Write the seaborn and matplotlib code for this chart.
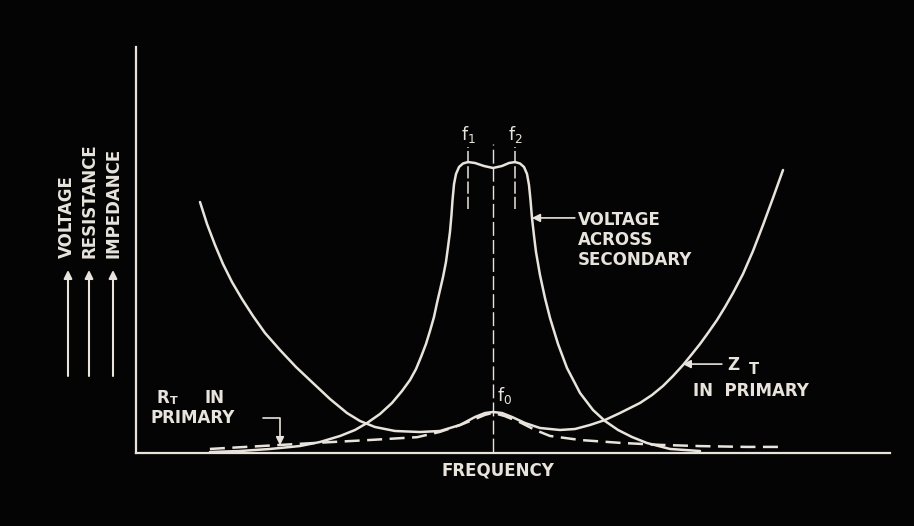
import numpy as np
import pandas as pd
import matplotlib.pyplot as plt
import seaborn as sns

# frequency axis and amplitude axis both in arbitrary units (0-100)
zt_freq = [8.49, 9.42, 10.48, 11.54, 12.73, 14.06, 15.52, 17.11, 19.10, 21.22,
           23.47, 25.73, 27.98, 29.71, 31.70, 34.35, 37.67, 40.32, 42.97, 44.96,
           46.29, 47.35, 48.54, 49.87, 51.59, 53.58, 56.23, 58.22, 60.21, 62.20,
           64.19, 66.84, 68.44, 69.89, 71.22, 72.55, 73.74, 74.80, 75.86, 77.06,
           78.12, 79.18, 80.50, 81.83, 83.16, 84.48, 85.81]
zt_val = [61.82, 56.40, 51.23, 46.55, 42.12, 37.93, 33.74, 29.56, 25.37, 21.18,
          17.24, 13.30, 9.85, 7.88, 6.40, 5.42, 5.17, 5.42, 6.90, 8.87,
          9.85, 10.10, 9.85, 8.87, 7.39, 6.16, 5.67, 5.91, 6.90, 8.13,
          9.85, 12.32, 14.29, 16.50, 18.97, 21.67, 24.38, 26.85, 29.56, 32.76,
          35.96, 39.41, 44.09, 49.75, 56.16, 62.81, 69.70]

volt_freq = [9.81, 13.79, 17.77, 21.75, 24.40, 27.06, 29.05, 30.64, 32.36, 33.95,
             35.28, 36.34, 37.14, 37.80, 38.46, 38.99, 39.52, 39.92, 40.32, 40.72,
             41.11, 41.38, 41.64, 41.84, 41.98, 42.18, 42.44, 42.84, 43.37, 44.03,
             44.96, 46.15, 47.35, 48.54, 49.47, 50.27, 50.93, 51.46, 51.86, 52.12,
             52.32, 52.52, 52.79, 53.05, 53.58, 54.24, 54.91, 55.97, 57.16, 58.89,
             60.61, 62.20, 63.93, 65.78, 67.77, 70.82, 74.80]
volt_val = [0.25, 0.49, 0.99, 1.72, 2.71, 4.19, 5.67, 7.39, 9.61, 12.32,
            15.27, 17.98, 20.69, 23.65, 26.85, 30.05, 33.50, 36.95, 40.15, 43.35,
            47.04, 50.74, 54.43, 58.62, 62.32, 66.26, 68.72, 70.44, 71.31, 71.67,
            71.43, 70.69, 70.20, 70.69, 71.43, 71.67, 71.31, 70.44, 68.72, 66.01,
            62.32, 57.88, 53.45, 49.51, 43.84, 38.18, 33.25, 26.85, 20.94, 14.78,
            10.59, 7.88, 5.67, 3.94, 2.46, 0.99, 0.49]

rt_freq = [9.8, 16.5, 24.0, 31.0, 37.3, 40.3, 43.0, 45.0, 46.3, 47.35, 48.9, 50.9,
           52.9, 54.9, 58.9, 64.2, 69.5, 74.8, 81.0, 85.4]
rt_val = [1.0, 1.7, 2.5, 3.2, 3.9, 5.2, 6.9, 8.4, 9.4, 9.9, 9.1, 7.6,
          5.7, 4.2, 3.2, 2.5, 2.0, 1.7, 1.5, 1.5]

f1, f0, f2 = 44.0, 47.35, 50.3

INK = '#e8e4dc'
BG = '#040404'
W, H = 914, 526


def fx(px):
    return px / W


def fy(py):
    return 1 - py / H


sns.set_theme(style='dark', rc={'axes.facecolor': BG, 'figure.facecolor': BG,
                                'savefig.facecolor': BG})
plt.rcParams['font.family'] = ['DejaVu Sans']

fig = plt.figure(figsize=(W / 100, H / 100), dpi=100)
ax = fig.add_axes([fx(136), fy(453), fx(890) - fx(136), fy(47) - fy(453)])

curves = pd.DataFrame({'freq': zt_freq, 'val': zt_val})
sns.lineplot(data=curves, x='freq', y='val', ax=ax, color=INK, lw=1.8,
             estimator=None, sort=False)
sns.lineplot(x=volt_freq, y=volt_val, ax=ax, color=INK, lw=1.8,
             estimator=None, sort=False)
sns.lineplot(x=rt_freq, y=rt_val, ax=ax, color=INK, lw=1.8,
             estimator=None, sort=False)
ax.lines[-1].set_dashes([6, 3])
for ln in ax.lines:
    ln.set_solid_joinstyle('round')

# resonance markers
ax.vlines(f0, 0.3, 76, colors=INK, lw=1.0, linestyles=(0, (10, 3)))
ax.vlines([f1, f2], 60, 75.4, colors=INK, lw=1.1, linestyles=(0, (8, 2)))

ax.set_xlim(0, 100)
ax.set_ylim(0, 100)
ax.set_xticks([])
ax.set_yticks([])
ax.set_xlabel('')
ax.set_ylabel('')
for side in ['top', 'right']:
    ax.spines[side].set_visible(False)
for side in ['left', 'bottom']:
    ax.spines[side].set_visible(True)
    ax.spines[side].set_color(INK)
    ax.spines[side].set_linewidth(1.6)

txt = dict(color=INK, fontsize=12, fontweight='bold')
arrow = dict(arrowstyle='-|>', color=INK, lw=1.2, mutation_scale=12,
             shrinkA=0, shrinkB=0)

# curve labels
fig.text(fx(468), fy(134), r'$\mathrm{f_1}$', ha='center', va='center',
         color=INK, fontsize=12.5)
fig.text(fx(515), fy(134), r'$\mathrm{f_2}$', ha='center', va='center',
         color=INK, fontsize=12.5)
fig.text(fx(497), fy(395), r'$\mathrm{f_0}$', ha='left', va='center',
         color=INK, fontsize=12.5)

fig.text(fx(578), fy(211), 'VOLTAGE\nACROSS\nSECONDARY', ha='left', va='top',
         linespacing=1.15, **txt)
ax.annotate('', xy=(52.5, 57.9), xytext=(58.2, 57.9), arrowprops=arrow)

fig.text(fx(727), fy(365), 'Z', ha='left', va='center', **txt)
fig.text(fx(749), fy(370), 'T', ha='left', va='center', color=INK,
         fontsize=10.5, fontweight='bold')
fig.text(fx(693), fy(391), 'IN  PRIMARY', ha='left', va='center', **txt)
ax.annotate('', xy=(72.5, 21.9), xytext=(77.7, 21.9), arrowprops=arrow)

fig.text(fx(157), fy(398), 'R', ha='left', va='center', **txt)
fig.text(fx(170), fy(401), 'T', ha='left', va='center', color=INK,
         fontsize=8, fontweight='bold')
fig.text(fx(204), fy(398), 'IN', ha='left', va='center', **txt)
fig.text(fx(150), fy(418), 'PRIMARY', ha='left', va='center', **txt)
ax.annotate('', xy=(19.1, 1.9), xytext=(16.8, 8.6),
            arrowprops=dict(arrow, connectionstyle='angle,angleA=0,angleB=90,rad=0'))

fig.text(fx(498), fy(470), 'FREQUENCY', ha='center', va='center', **txt)

# rotated quantity labels with up arrows
for px, label in [(67, 'VOLTAGE'), (90, 'RESISTANCE'), (113, 'IMPEDANCE')]:
    fig.text(fx(px), fy(258), label, rotation=90, ha='center', va='bottom', **txt)
for px in [68, 89, 113]:
    ax.annotate('', xy=(fx(px), fy(270)), xytext=(fx(px), fy(376)),
                xycoords='figure fraction', textcoords='figure fraction',
                arrowprops=dict(arrow, lw=1.5))

fig.savefig('out.png', dpi=100, facecolor=BG)
